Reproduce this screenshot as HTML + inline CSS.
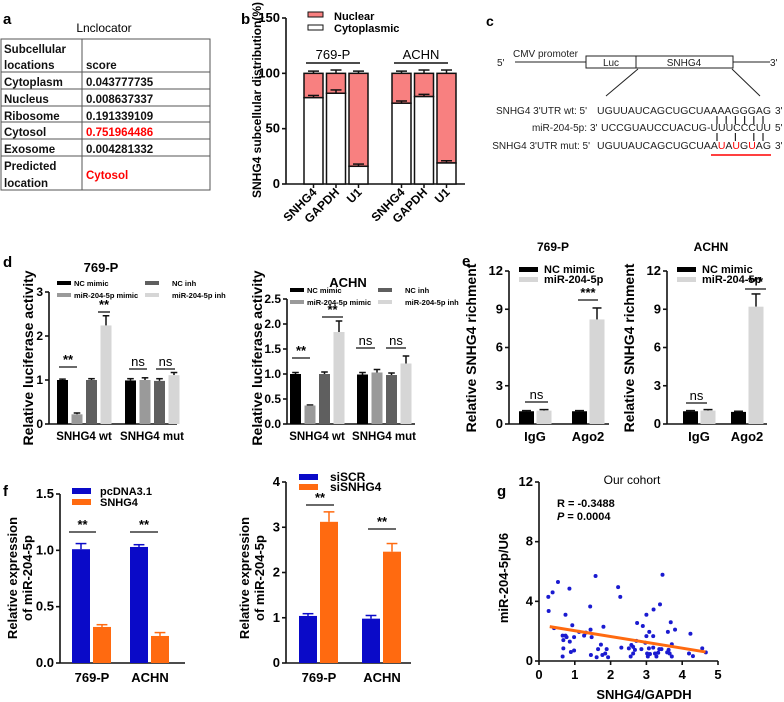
<!DOCTYPE html>
<html><head><meta charset="utf-8"><style>
html,body{margin:0;padding:0;background:#fff;}
svg{display:block;font-family:"Liberation Sans",Arial,sans-serif;}
.b{font-weight:bold;}
</style></head><body>
<svg id="fig" width="784" height="702" viewBox="0 0 784 702" xmlns="http://www.w3.org/2000/svg">
<g>
<text x="3" y="24" font-size="15" class="b">a</text>
<text x="104" y="32" font-size="12" text-anchor="middle">Lnclocator</text>
<g stroke="#555" stroke-width="1" fill="none">
<rect x="1" y="39" width="209" height="151"/>
<line x1="82" y1="39" x2="82" y2="190"/>
<line x1="1" y1="72" x2="210" y2="72"/><line x1="1" y1="89" x2="210" y2="89"/>
<line x1="1" y1="106" x2="210" y2="106"/><line x1="1" y1="122" x2="210" y2="122"/>
<line x1="1" y1="139" x2="210" y2="139"/><line x1="1" y1="156" x2="210" y2="156"/>
</g>
<g font-size="11.5" class="b" fill="#111">
<text x="4" y="53">Subcellular</text><text x="4" y="69">locations</text><text x="86" y="69">score</text>
<text x="4" y="86">Cytoplasm</text><text x="86" y="86">0.043777735</text>
<text x="4" y="103">Nucleus</text><text x="86" y="103">0.008637337</text>
<text x="4" y="120">Ribosome</text><text x="86" y="120">0.191339109</text>
<text x="4" y="136">Cytosol</text><text x="86" y="136" fill="#f00">0.751964486</text>
<text x="4" y="153">Exosome</text><text x="86" y="153">0.004281332</text>
<text x="4" y="170">Predicted</text><text x="4" y="187">location</text><text x="86" y="179" fill="#f00">Cytosol</text>
</g>
</g>
<text x="241" y="24" font-size="15" class="b">b</text>
<text x="486" y="26" font-size="14" class="b">c</text>
<text x="3" y="267" font-size="15" class="b">d</text>
<text x="462" y="266" font-size="15" class="b">e</text>
<text x="3" y="496" font-size="15" class="b">f</text>
<text x="497" y="496" font-size="15" class="b">g</text>

<g font-size="10" fill="#222">
<text x="497" y="66">5'</text>
<line x1="515" y1="62" x2="586" y2="62" stroke="#222"/>
<text x="513" y="57">CMV promoter</text>
<rect x="586" y="56" width="50" height="12" fill="#fff" stroke="#222"/>
<text x="611" y="66" text-anchor="middle">Luc</text>
<rect x="636" y="56" width="97" height="12" fill="#fff" stroke="#222"/>
<text x="684" y="66" text-anchor="middle">SNHG4</text>
<line x1="733" y1="62" x2="770" y2="62" stroke="#222"/>
<text x="770" y="66">3'</text>
<line x1="638" y1="69" x2="606" y2="96" stroke="#222"/>
<line x1="732" y1="69" x2="760" y2="96" stroke="#222"/>
<text x="587" y="114" text-anchor="end">SNHG4 3'UTR wt: 5'</text>
<text x="597" y="114" textLength="174" lengthAdjust="spacingAndGlyphs">UGUUAUCAGCUGCUAAAAGGGAG</text>
<text x="775" y="114">3'</text>
<text x="587" y="131" text-anchor="end">miR-204-5p:</text>
<text x="590" y="131">3'</text>
<text x="601" y="131" textLength="170" lengthAdjust="spacingAndGlyphs">UCCGUAUCCUACUG-UUUCCCUU</text>
<text x="775" y="131">5'</text>
<text x="590" y="149" text-anchor="end">SNHG4 3'UTR mut: 5'</text>
<text x="597" y="149" textLength="174" lengthAdjust="spacingAndGlyphs">UGUUAUCAGCUGCUAA<tspan fill="#f00">U</tspan>A<tspan fill="#f00">U</tspan>G<tspan fill="#f00">U</tspan>AG</text>
<text x="775" y="149">3'</text>
<g stroke="#222" stroke-width="1.2" id="pairs"></g>
<line x1="711" y1="155" x2="771" y2="155" stroke="#f00" stroke-width="1.5"/>
</g>
</svg>
<script>
var svg=document.getElementById('fig');var NS='http://www.w3.org/2000/svg';
function mk(t,a,p){var e=document.createElementNS(NS,t);for(var k in a)e.setAttribute(k,a[k]);(p||svg).appendChild(e);return e;}
function tx(x,y,s,a,p){var e=mk('text',Object.assign({x:x,y:y},a||{}),p);e.textContent=s;return e;}
var pg=document.getElementById('pairs');
[0,1,2,3,4,5].forEach(function(i){var x=717+i*9.2;mk('line',{x1:x,y1:116,x2:x,y2:124},pg);});
[0,2,4,5].forEach(function(i){var x=717+i*9.2;mk('line',{x1:x,y1:133,x2:x,y2:141},pg);});

// ===== data =====
var bCats=['SNHG4','GAPDH','U1'];
var bGroups=['769-P','ACHN'];
var bCyto=[[78,82,16],[73,79,19]];
var bCytoErr=[[2,3,2],[2,2,2]];
var bTotalErr=[[2,3,2],[2,3,3]];
var bTicks=[0,50,100,150];

var dGroups=['SNHG4 wt','SNHG4 mut'];
var dSeries=['NC mimic','miR-204-5p mimic','NC inh','miR-204-5p inh'];
var d769=[[1.0,0.22,1.0,2.24],[0.99,1.0,0.98,1.11]];
var d769Err=[[0.02,0.03,0.03,0.22],[0.04,0.05,0.05,0.06]];
var dACHN=[[1.0,0.37,1.0,1.84],[0.99,1.03,0.98,1.21]];
var dACHNErr=[[0.03,0.01,0.04,0.22],[0.04,0.06,0.04,0.15]];
var dTicks769=[0,1,2,3];
var dTicksACHN=[0,0.5,1.0,1.5,2.0,2.5];

var eGroups=['IgG','Ago2'];
var eSeries=['NC mimic','miR-204-5p'];
var e769=[[1.0,1.05],[1.0,8.2]];
var e769Err=[[0.05,0.08],[0.05,0.9]];
var eACHN=[[1.0,1.05],[0.95,9.2]];
var eACHNErr=[[0.05,0.08],[0.05,1.0]];
var eTicks=[0,3,6,9,12];

var fGroups=['769-P','ACHN'];
var fSeriesL=['pcDNA3.1','SNHG4'];
var fL=[[1.01,0.32],[1.03,0.24]];
var fLErr=[[0.05,0.02],[0.02,0.03]];
var fSeriesR=['siSCR','siSNHG4'];
var fR=[[1.04,3.12],[0.98,2.46]];
var fRErr=[[0.05,0.22],[0.07,0.18]];
var fTicksL=[0,0.5,1.0,1.5];
var fTicksR=[0,1,2,3,4];

var gX=[0.26,0.38,0.53,0.27,0.42,0.85,0.74,0.93,0.66,0.74,0.77,0.68,0.98,0.86,0.68,0.66,0.89,0.98,1.12,1.26,1.31,1.43,1.44,1.47,1.58,1.80,1.65,1.45,1.61,1.77,1.85,1.89,1.93,1.73,2.21,2.27,2.30,2.51,2.58,2.63,2.56,2.63,2.68,2.72,2.74,2.90,2.86,2.97,3.00,3.00,3.08,3.07,3.02,3.10,3.04,3.19,3.20,3.19,3.24,3.28,3.33,3.36,3.38,3.42,3.45,3.60,3.62,3.58,3.65,3.71,3.68,3.71,3.80,4.23,4.19,4.30,4.56,4.66];
var gY=[4.3,4.6,5.3,3.35,2.2,4.85,3.1,2.4,1.7,1.7,1.6,1.4,1.6,1.3,0.85,0.3,0.6,0.7,1.95,1.7,1.9,3.65,2.1,1.6,5.7,2.3,0.8,0.4,0.25,0.4,0.5,0.8,0.25,1.1,4.95,4.3,0.9,0.85,1.07,0.95,0.3,0.5,0.75,1.35,2.55,2.35,0.8,1.22,1.67,3.1,1.95,0.85,0.5,0.47,0.3,1.67,3.45,0.9,0.5,0.3,0.55,0.8,3.8,0.8,5.78,1.95,0.75,0.58,0.5,1.12,2.6,0.3,2.1,1.83,0.5,0.33,0.85,0.58];
var gFit=[2.42,-0.39];
var gXTicks=[0,1,2,3,4,5];
var gYTicks=[0,4,8,12];

// ===== helpers =====
function yAxis(g,ax,y0,y1,max,ticks,fmt,fs){
  var s=function(v){return y0-(v/max)*(y0-y1);};
  var ln=mk('line',{x1:ax,y1:y0,x2:ax,y2:y1,stroke:'#111','stroke-width':1.6},g);
  
  
  ticks.forEach(function(t){
    mk('line',{x1:ax-4,y1:s(t),x2:ax,y2:s(t),stroke:'#111','stroke-width':1.6},g);
    var l=tx(ax-6,s(t)+4,fmt(t),{'text-anchor':'end','font-size':fs||12,'font-weight':'bold'},g);
    
    
  });
  return s;
}
function bars(g,vals,errs,s,x0,gg,step,w,colors,errColors){
  vals.forEach(function(grp,gi){grp.forEach(function(v,i){
    var x=x0+gi*gg+i*step;var yt=s(v);var ye=s(v+errs[gi][i]);
    var ec=errColors?errColors[i]:'#111';
    mk('line',{x1:x+w/2,y1:yt,x2:x+w/2,y2:ye,stroke:ec,'stroke-width':1.5},g);
    mk('line',{x1:x+w/2-w*0.3,y1:ye,x2:x+w/2+w*0.3,y2:ye,stroke:ec,'stroke-width':1.5},g);
    var r=mk('rect',{x:x,y:yt,width:w,height:s(0)-yt,fill:colors[i]},g);
    
    
  });});
}
function sig(g,x1,x2,y,t,fs){mk('line',{x1:x1,y1:y,x2:x2,y2:y,stroke:'#111','stroke-width':1.3},g);tx((x1+x2)/2,y-3,t,{'text-anchor':'middle','font-size':fs||13,'font-weight':t=='ns'?'normal':'bold'},g);}
function ylab(g,x,y,t,fs){tx(x,y,t,{'text-anchor':'middle','font-size':fs||12,'font-weight':'bold',transform:'rotate(-90 '+x+' '+y+')'},g);}

// ===== panel b =====
(function(){
  var g=mk('g',{});
  
  
  var s=yAxis(g,286,184,18,150,bTicks,function(t){return t;},13);
  mk('line',{x1:286,y1:184,x2:465,y2:184,stroke:'#111','stroke-width':1.6},g);
  ylab(g,261,100,'SNHG4 subcellular distribution(%)',12);
  var x0=304,gg=88,st=22.5,w=19;
  bGroups.forEach(function(gn,gi){bCats.forEach(function(c,i){
    var x=x0+gi*gg+i*st;var yc=s(bCyto[gi][i]);var yt=s(100);
    mk('line',{x1:x+w/2,y1:yt,x2:x+w/2,y2:s(100+bTotalErr[gi][i]),stroke:'#111','stroke-width':1.5},g);
    mk('line',{x1:x+4,y1:s(100+bTotalErr[gi][i]),x2:x+w-4,y2:s(100+bTotalErr[gi][i]),stroke:'#111','stroke-width':1.5},g);
    var n=mk('rect',{x:x,y:yt,width:w,height:yc-yt,fill:'#f88080',stroke:'#111','stroke-width':1.5},g);
    
    
    var c2=mk('rect',{x:x,y:yc,width:w,height:s(0)-yc,fill:'#fff',stroke:'#111','stroke-width':1.5},g);
    
    
    mk('line',{x1:x+w/2,y1:yc,x2:x+w/2,y2:yc-s(0)+s(bCytoErr[gi][i]),stroke:'#111','stroke-width':1.5},g);
    mk('line',{x1:x+4,y1:yc-s(0)+s(bCytoErr[gi][i]),x2:x+w-4,y2:yc-s(0)+s(bCytoErr[gi][i]),stroke:'#111','stroke-width':1.5},g);
    mk('line',{x1:x+w/2,y1:184,x2:x+w/2,y2:188,stroke:'#111','stroke-width':1.5},g);
    var l=tx(x+w/2+4,193,c,{'text-anchor':'end','font-size':12,'font-weight':'bold',transform:'rotate(-45 '+(x+w/2+4)+' 193)'},g);
    
    
  });
  var gx1=x0+gi*gg+2,gx2=x0+gi*gg+2*st+w-8;
  mk('line',{x1:gx1,y1:63,x2:gx2,y2:63,stroke:'#111','stroke-width':1.5},g);
  tx((gx1+gx2)/2,59,gn,{'text-anchor':'middle','font-size':13},g);
  });
  mk('rect',{x:308,y:12,width:15,height:5,fill:'#f88080',stroke:'#111'},g);
  tx(334,20,'Nuclear',{'font-size':11,'font-weight':'bold'},g);
  mk('rect',{x:308,y:25,width:15,height:5,fill:'#fff',stroke:'#111'},g);
  tx(334,32,'Cytoplasmic',{'font-size':11,'font-weight':'bold'},g);
})();

// ===== panel d =====
var dCols=['#000','#9a9a9a','#5f5f5f','#d6d6d6'];
function panelD(name,vals,errs,ticks,max,ax,y1,x0,gg,title,tx0,fmt,labOff){
  var g=mk('g',{});
  
  
  var s=yAxis(g,ax,424,y1,max,ticks,fmt,12);
  mk('line',{x1:ax,y1:424,x2:ax+128,y2:424,stroke:'#111','stroke-width':1.6},g);
  bars(g,vals,errs,s,x0,gg,14.5,11,dCols);
  dGroups.forEach(function(n,i){tx(x0+i*gg+27,440,n,{'text-anchor':'middle','font-size':11.5,'font-weight':'bold'},g);});
  tx(tx0,y1-8-(title=='ACHN'?0:12)+ (title=='ACHN'?-4:0),title,{'text-anchor':'middle','font-size':13,'font-weight':'bold'},g);
  ylab(g,ax-labOff,358,'Relative luciferase activity',14);
  var lx=x0,ly=y1-8;
  [[0,0,0],[1,0,12],[2,88,0],[3,88,12]].forEach(function(a){
    mk('rect',{x:lx+a[1],y:ly+a[2]-3,width:14,height:4,fill:dCols[a[0]]},g);
    tx(lx+a[1]+(a[0]<2?17:27),ly+a[2]+2,dSeries[a[0]],{'font-size':7.5,'font-weight':'bold'},g);
  });
  return {g:g,s:s};
}
(function(){
  var L=panelD('panel-d-769p',d769,d769Err,dTicks769,3,49,292,57,68,'769-P',101,function(t){return t;},16);
  sig(L.g,59,77,367,'**');sig(L.g,98,110,312,'**');sig(L.g,129,147,369,'ns');sig(L.g,156,175,369,'ns');
  var R=panelD('panel-d-achn',dACHN,dACHNErr,dTicksACHN,2.5,287,299,290,67,'ACHN',348,function(t){return t.toFixed(1);},25);
  sig(R.g,292,310,358,'**');sig(R.g,322,343,317,'**');sig(R.g,356,375,348,'ns');sig(R.g,386,406,348,'ns');
})();

// ===== panel e =====
var eCols=['#000','#d6d6d6'];
function panelE(name,vals,errs,ax,x0,gg,title){
  var g=mk('g',{});
  
  
  var s=yAxis(g,ax,424,271,12,eTicks,function(t){return t;},13);
  mk('line',{x1:ax,y1:424,x2:ax+100,y2:424,stroke:'#111','stroke-width':1.6},g);
  bars(g,vals,errs,s,x0,gg,17.5,15,eCols);
  eGroups.forEach(function(n,i){tx(x0+i*gg+16,441,n,{'text-anchor':'middle','font-size':13,'font-weight':'bold'},g);});
  tx(ax+44,251,title,{'text-anchor':'middle','font-size':12,'font-weight':'bold'},g);
  ylab(g,ax-33,348,'Relative SNHG4 richment',14);
  mk('rect',{x:ax+10,y:267,width:19,height:5,fill:eCols[0]},g);
  tx(ax+35,273,eSeries[0],{'font-size':11,'font-weight':'bold'},g);
  mk('rect',{x:ax+10,y:277,width:19,height:5,fill:eCols[1]},g);
  tx(ax+35,283,eSeries[1],{'font-size':11,'font-weight':'bold'},g);
  return g;
}
(function(){
  var L=panelE('panel-e-769p',e769,e769Err,509,519,53,'769-P');
  sig(L,525,548,402,'ns',13);sig(L,578,598,300,'***',13);
  var R=panelE('panel-e-achn',eACHN,eACHNErr,667,683,48,'ACHN');
  sig(R,686,707,403,'ns',13);sig(R,745,766,289,'***',13);
})();

// ===== panel f =====
var fCols=['#0a0ac8','#ff6a10'];
function panelF(name,vals,errs,series,ticks,max,y1,ax,x0,gg,fmt,ylx){
  var g=mk('g',{});
  
  
  var s=yAxis(g,ax,663,y1,max,ticks,fmt,13);
  mk('line',{x1:ax,y1:663,x2:ax+125,y2:663,stroke:'#111','stroke-width':1.6},g);
  bars(g,vals,errs,s,x0,gg,21,18,fCols,fCols);
  fGroups.forEach(function(n,i){tx(x0+i*gg+20,682,n,{'text-anchor':'middle','font-size':13,'font-weight':'bold'},g);});
  ylab(g,ylx,578,'Relative expression',13);ylab(g,ylx+15,578,'of miR-204-5p',13);
  return {g:g};
}
(function(){
  var L=panelF('panel-f-overexpression',fL,fLErr,fSeriesL,fTicksL,1.5,494,60,72,58,function(t){return t.toFixed(1);},17);
  mk('rect',{x:72,y:488,width:19,height:6,fill:fCols[0]},L.g);tx(100,495,fSeriesL[0],{'font-size':11,'font-weight':'bold'},L.g);
  mk('rect',{x:72,y:499,width:19,height:6,fill:fCols[1]},L.g);tx(100,506,fSeriesL[1],{'font-size':11,'font-weight':'bold'},L.g);
  sig(L.g,69,96,532,'**');sig(L.g,130,158,532,'**');
  var R=panelF('panel-f-knockdown',fR,fRErr,fSeriesR,fTicksR,4,482,286,299,63,function(t){return t;},249);
  mk('rect',{x:299,y:474,width:19,height:6,fill:fCols[0]},R.g);tx(330,481,fSeriesR[0],{'font-size':12,'font-weight':'bold'},R.g);
  mk('rect',{x:299,y:484,width:19,height:6,fill:fCols[1]},R.g);tx(330,491,fSeriesR[1],{'font-size':12,'font-weight':'bold'},R.g);
  sig(R.g,306,334,505,'**');sig(R.g,368,396,529,'**');
})();

// ===== panel g =====
(function(){
  var g=mk('g',{});
  
  
  var sx=function(v){return 539+v*35.8;};
  var s=yAxis(g,539,661,482,12,gYTicks,function(t){return t;},13);
  mk('line',{x1:539,y1:661,x2:718,y2:661,stroke:'#111','stroke-width':1.6},g);
  gXTicks.forEach(function(t){mk('line',{x1:sx(t),y1:661,x2:sx(t),y2:665,stroke:'#111','stroke-width':1.6},g);
    tx(sx(t),679,String(t),{'text-anchor':'middle','font-size':13,'font-weight':'bold'},g);});
  gX.forEach(function(x,i){var c=mk('circle',{cx:sx(x),cy:s(gY[i]),r:2,fill:'#1a1ad0'},g);
    
    });
  var fl=mk('line',{x1:sx(0.3),y1:s(gFit[0]+gFit[1]*0.3),x2:sx(4.65),y2:s(gFit[0]+gFit[1]*4.65),stroke:'#ff6a10','stroke-width':3},g);
  
  
  tx(632,484,'Our cohort',{'text-anchor':'middle','font-size':12},g);
  tx(557,507,'R = -0.3488',{'font-size':11,'font-weight':'bold'},g);
  var p=tx(557,520,'',{'font-size':11,'font-weight':'bold'},g);
  p.innerHTML='<tspan font-style="italic">P</tspan> = 0.0004';
  ylab(g,508,578,'miR-204-5p/U6',13);
  tx(644,699,'SNHG4/GAPDH',{'text-anchor':'middle','font-size':13,'font-weight':'bold'},g);
})();
</script>
</body></html>
